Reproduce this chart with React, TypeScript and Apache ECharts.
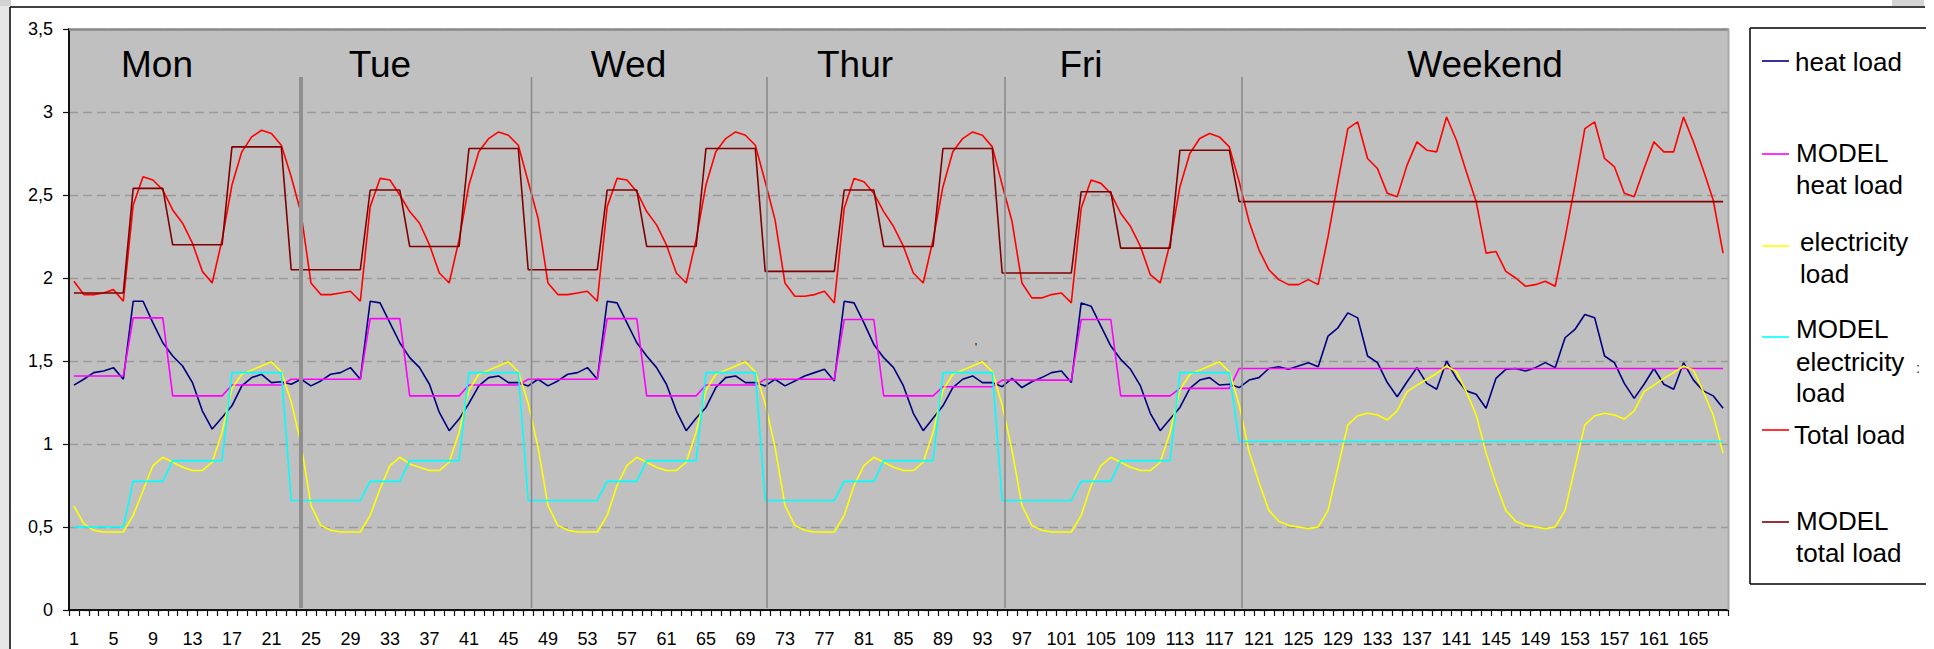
import React, { useEffect, useRef } from "react";
import * as echarts from "echarts";

const FONT = "'Liberation Sans', Arial, sans-serif";

// hour-of-week categories, labelled 1 .. 168
const hours: string[] = Array.from({ length: 168 }, (_, i) => String(i + 1));

const dayNames = ["Mon", "Tue", "Wed", "Thur", "Fri", "Weekend"];

const seriesNames = [
  "heat load",
  "MODEL heat load",
  "electricity load",
  "MODEL electricity load",
  "Total load",
  "MODEL total load",
];

const heatLoad = [
  1.355, 1.39, 1.43, 1.44, 1.46, 1.39, 1.86, 1.86, 1.73, 1.61, 1.53, 1.47, 1.37, 1.2, 1.09, 1.16, 1.23, 1.35, 1.4, 1.42, 1.37, 1.375, 1.36, 1.39,
  1.35, 1.38, 1.42, 1.43, 1.46, 1.39, 1.86, 1.85, 1.73, 1.61, 1.52, 1.46, 1.36, 1.19, 1.08, 1.15, 1.245, 1.35, 1.4, 1.41, 1.37, 1.37, 1.35, 1.39,
  1.35, 1.38, 1.42, 1.43, 1.46, 1.39, 1.86, 1.85, 1.73, 1.61, 1.53, 1.46, 1.36, 1.2, 1.08, 1.155, 1.22, 1.34, 1.4, 1.41, 1.37, 1.37, 1.35, 1.39,
  1.35, 1.38, 1.41, 1.43, 1.45, 1.38, 1.86, 1.85, 1.73, 1.6, 1.52, 1.46, 1.35, 1.185, 1.08, 1.155, 1.23, 1.34, 1.39, 1.41, 1.37, 1.37, 1.345, 1.395,
  1.34, 1.375, 1.4, 1.43, 1.44, 1.37, 1.85, 1.83, 1.71, 1.59, 1.51, 1.45, 1.35, 1.185, 1.08, 1.15, 1.22, 1.335, 1.385, 1.4, 1.355, 1.36, 1.34, 1.385,
  1.4, 1.455, 1.465, 1.45, 1.47, 1.49, 1.465, 1.65, 1.7, 1.79, 1.76, 1.53, 1.49, 1.37, 1.285, 1.375, 1.46, 1.365, 1.33, 1.5, 1.395, 1.32, 1.3, 1.215,
  1.395, 1.45, 1.455, 1.44, 1.46, 1.49, 1.46, 1.64, 1.69, 1.78, 1.76, 1.53, 1.49, 1.365, 1.275, 1.36, 1.455, 1.36, 1.33, 1.49, 1.385, 1.32, 1.29, 1.215,
];

const modelHeatLoad = [
  1.41, 1.41, 1.41, 1.41, 1.41, 1.41, 1.76, 1.76, 1.76, 1.76, 1.29, 1.29, 1.29, 1.29, 1.29, 1.29, 1.355, 1.355, 1.355, 1.355, 1.355, 1.355, 1.39, 1.39,
  1.39, 1.39, 1.39, 1.39, 1.39, 1.39, 1.755, 1.755, 1.755, 1.755, 1.29, 1.29, 1.29, 1.29, 1.29, 1.29, 1.355, 1.355, 1.355, 1.355, 1.355, 1.355, 1.39, 1.39,
  1.39, 1.39, 1.39, 1.39, 1.39, 1.39, 1.755, 1.755, 1.755, 1.755, 1.29, 1.29, 1.29, 1.29, 1.29, 1.29, 1.355, 1.355, 1.355, 1.355, 1.355, 1.355, 1.39, 1.39,
  1.39, 1.39, 1.39, 1.39, 1.39, 1.39, 1.75, 1.75, 1.75, 1.75, 1.29, 1.29, 1.29, 1.29, 1.29, 1.29, 1.345, 1.345, 1.345, 1.345, 1.345, 1.345, 1.385, 1.385,
  1.385, 1.385, 1.385, 1.385, 1.385, 1.385, 1.75, 1.75, 1.75, 1.75, 1.29, 1.29, 1.29, 1.29, 1.29, 1.29, 1.335, 1.335, 1.335, 1.335, 1.335, 1.335, 1.455, 1.455,
  1.455, 1.455, 1.455, 1.455, 1.455, 1.455, 1.455, 1.455, 1.455, 1.455, 1.455, 1.455, 1.455, 1.455, 1.455, 1.455, 1.455, 1.455, 1.455, 1.455, 1.455, 1.455, 1.455, 1.455,
  1.455, 1.455, 1.455, 1.455, 1.455, 1.455, 1.455, 1.455, 1.455, 1.455, 1.455, 1.455, 1.455, 1.455, 1.455, 1.455, 1.455, 1.455, 1.455, 1.455, 1.455, 1.455, 1.455, 1.455,
];

const electricityLoad = [
  0.625, 0.52, 0.48, 0.47, 0.47, 0.47, 0.57, 0.72, 0.87, 0.92, 0.89, 0.86, 0.84, 0.84, 0.89, 1.07, 1.335, 1.42, 1.445, 1.47, 1.495, 1.435, 1.255, 1.0,
  0.63, 0.51, 0.48, 0.47, 0.47, 0.47, 0.57, 0.73, 0.87, 0.92, 0.88, 0.86, 0.84, 0.84, 0.89, 1.07, 1.325, 1.42, 1.445, 1.47, 1.495, 1.435, 1.245, 0.98,
  0.63, 0.51, 0.48, 0.47, 0.47, 0.47, 0.57, 0.75, 0.87, 0.92, 0.89, 0.86, 0.84, 0.84, 0.89, 1.07, 1.325, 1.42, 1.445, 1.47, 1.495, 1.435, 1.245, 0.98,
  0.63, 0.51, 0.48, 0.47, 0.47, 0.47, 0.57, 0.75, 0.87, 0.92, 0.89, 0.86, 0.84, 0.84, 0.89, 1.07, 1.325, 1.42, 1.445, 1.47, 1.495, 1.435, 1.235, 0.96,
  0.63, 0.51, 0.48, 0.47, 0.47, 0.47, 0.57, 0.75, 0.87, 0.92, 0.89, 0.86, 0.84, 0.84, 0.89, 1.07, 1.325, 1.42, 1.445, 1.47, 1.495, 1.435, 1.235, 0.955,
  0.77, 0.6, 0.535, 0.51, 0.5, 0.49, 0.5, 0.6, 0.86, 1.115, 1.17, 1.185, 1.175, 1.145, 1.2, 1.315, 1.355, 1.39, 1.425, 1.47, 1.435, 1.315, 1.175, 0.945,
  0.76, 0.6, 0.535, 0.51, 0.5, 0.49, 0.5, 0.6, 0.86, 1.115, 1.17, 1.185, 1.175, 1.15, 1.2, 1.315, 1.355, 1.395, 1.43, 1.47, 1.445, 1.315, 1.175, 0.945,
];

const modelElectricityLoad = [
  0.5, 0.5, 0.5, 0.5, 0.5, 0.5, 0.775, 0.775, 0.775, 0.775, 0.9, 0.9, 0.9, 0.9, 0.9, 0.9, 1.43, 1.43, 1.43, 1.43, 1.43, 1.43, 0.66, 0.66,
  0.66, 0.66, 0.66, 0.66, 0.66, 0.66, 0.775, 0.775, 0.775, 0.775, 0.9, 0.9, 0.9, 0.9, 0.9, 0.9, 1.43, 1.43, 1.43, 1.43, 1.43, 1.43, 0.66, 0.66,
  0.66, 0.66, 0.66, 0.66, 0.66, 0.66, 0.775, 0.775, 0.775, 0.775, 0.9, 0.9, 0.9, 0.9, 0.9, 0.9, 1.43, 1.43, 1.43, 1.43, 1.43, 1.43, 0.66, 0.66,
  0.66, 0.66, 0.66, 0.66, 0.66, 0.66, 0.775, 0.775, 0.775, 0.775, 0.9, 0.9, 0.9, 0.9, 0.9, 0.9, 1.43, 1.43, 1.43, 1.43, 1.43, 1.43, 0.66, 0.66,
  0.66, 0.66, 0.66, 0.66, 0.66, 0.66, 0.775, 0.775, 0.775, 0.775, 0.9, 0.9, 0.9, 0.9, 0.9, 0.9, 1.43, 1.43, 1.43, 1.43, 1.43, 1.43, 1.015, 1.015,
  1.015, 1.015, 1.015, 1.015, 1.015, 1.015, 1.015, 1.015, 1.015, 1.015, 1.015, 1.015, 1.015, 1.015, 1.015, 1.015, 1.015, 1.015, 1.015, 1.015, 1.015, 1.015, 1.015, 1.015,
  1.015, 1.015, 1.015, 1.015, 1.015, 1.015, 1.015, 1.015, 1.015, 1.015, 1.015, 1.015, 1.015, 1.015, 1.015, 1.015, 1.015, 1.015, 1.015, 1.015, 1.015, 1.015, 1.015, 1.015,
];

const totalLoad = [
  1.98, 1.9, 1.9, 1.91, 1.93, 1.86, 2.44, 2.61, 2.59, 2.53, 2.41, 2.33, 2.21, 2.04, 1.97, 2.23, 2.56, 2.76, 2.85, 2.89, 2.87, 2.8, 2.61, 2.39,
  1.97, 1.9, 1.9, 1.91, 1.92, 1.86, 2.43, 2.6, 2.59, 2.5, 2.4, 2.33, 2.2, 2.03, 1.97, 2.23, 2.56, 2.76, 2.84, 2.88, 2.86, 2.8, 2.58, 2.36,
  1.97, 1.9, 1.9, 1.91, 1.92, 1.86, 2.43, 2.6, 2.59, 2.52, 2.4, 2.32, 2.2, 2.03, 1.97, 2.23, 2.56, 2.76, 2.84, 2.88, 2.86, 2.8, 2.58, 2.35,
  1.97, 1.89, 1.89, 1.9, 1.92, 1.85, 2.42, 2.6, 2.58, 2.51, 2.4, 2.31, 2.19, 2.03, 1.97, 2.23, 2.55, 2.76, 2.84, 2.88, 2.86, 2.79, 2.56, 2.34,
  1.97, 1.88, 1.88, 1.9, 1.91, 1.85, 2.42, 2.59, 2.57, 2.51, 2.39, 2.31, 2.19, 2.02, 1.97, 2.21, 2.55, 2.75, 2.84, 2.87, 2.85, 2.79, 2.58, 2.34,
  2.17, 2.05, 1.99, 1.96, 1.96, 1.99, 1.96, 2.25, 2.58, 2.9, 2.94, 2.72, 2.66, 2.51, 2.49, 2.68, 2.82, 2.77, 2.76, 2.97, 2.83, 2.64, 2.46, 2.15,
  2.16, 2.04, 2.0, 1.95, 1.96, 1.98, 1.95, 2.24, 2.56, 2.9, 2.94, 2.72, 2.67, 2.51, 2.49, 2.66, 2.82, 2.76, 2.76, 2.97, 2.82, 2.65, 2.47, 2.15,
];

const modelTotalLoad = [
  1.91, 1.91, 1.91, 1.91, 1.91, 1.91, 2.54, 2.54, 2.54, 2.54, 2.2, 2.2, 2.2, 2.2, 2.2, 2.2, 2.79, 2.79, 2.79, 2.79, 2.79, 2.79, 2.05, 2.05,
  2.05, 2.05, 2.05, 2.05, 2.05, 2.05, 2.53, 2.53, 2.53, 2.53, 2.19, 2.19, 2.19, 2.19, 2.19, 2.19, 2.78, 2.78, 2.78, 2.78, 2.78, 2.78, 2.05, 2.05,
  2.05, 2.05, 2.05, 2.05, 2.05, 2.05, 2.53, 2.53, 2.53, 2.53, 2.19, 2.19, 2.19, 2.19, 2.19, 2.19, 2.78, 2.78, 2.78, 2.78, 2.78, 2.78, 2.04, 2.04,
  2.04, 2.04, 2.04, 2.04, 2.04, 2.04, 2.53, 2.53, 2.53, 2.53, 2.19, 2.19, 2.19, 2.19, 2.19, 2.19, 2.78, 2.78, 2.78, 2.78, 2.78, 2.78, 2.03, 2.03,
  2.03, 2.03, 2.03, 2.03, 2.03, 2.03, 2.52, 2.52, 2.52, 2.52, 2.18, 2.18, 2.18, 2.18, 2.18, 2.18, 2.77, 2.77, 2.77, 2.77, 2.77, 2.77, 2.46, 2.46,
  2.46, 2.46, 2.46, 2.46, 2.46, 2.46, 2.46, 2.46, 2.46, 2.46, 2.46, 2.46, 2.46, 2.46, 2.46, 2.46, 2.46, 2.46, 2.46, 2.46, 2.46, 2.46, 2.46, 2.46,
  2.46, 2.46, 2.46, 2.46, 2.46, 2.46, 2.46, 2.46, 2.46, 2.46, 2.46, 2.46, 2.46, 2.46, 2.46, 2.46, 2.46, 2.46, 2.46, 2.46, 2.46, 2.46, 2.46, 2.46,
];

const seriesValues = [heatLoad, modelHeatLoad, electricityLoad, modelElectricityLoad, totalLoad, modelTotalLoad];
const seriesColors = ["#000080", "#FF00FF", "#FFFF00", "#00FFFF", "#FF0000", "#800000"];

// legend text lines per entry
const legendLines = [
  ["heat load"],
  ["MODEL", "heat load"],
  ["electricity", "load"],
  ["MODEL", "electricity", "load"],
  ["Total load"],
  ["MODEL", "total load"],
];

function txt(text: string, x: number, y: number, size: number, align: string, extra: any = {}) {
  return {
    type: "text",
    x,
    y,
    z: 20,
    silent: true,
    style: {
      text,
      fontSize: size,
      fontFamily: FONT,
      fill: "#000",
      align,
      textAlign: align,
      verticalAlign: "middle",
      textVerticalAlign: "middle",
      ...extra,
    },
  };
}

function ln(x1: number, y1: number, x2: number, y2: number, stroke: string, lineWidth: number, z = 20) {
  return { type: "line", z, silent: true, shape: { x1, y1, x2, y2 }, style: { stroke, lineWidth } };
}

function buildGraphic() {
  const g: any[] = [];
  // outer frame
  g.push({ type: "rect", z: 1, silent: true, shape: { x: 0, y: 0, width: 9, height: 649 }, style: { fill: "#e6e6e6" } });
  g.push({ type: "rect", z: 1, silent: true, shape: { x: 0, y: 0, width: 11, height: 6 }, style: { fill: "#d2d2d2" } });
  g.push({ type: "rect", z: 1, silent: true, shape: { x: 1892, y: 0, width: 32, height: 6 }, style: { fill: "#d4d4d4" } });
  g.push(ln(10, 7, 1925, 7, "#000", 1.5));
  g.push(ln(10, 7, 10, 649, "#000", 1.5));
  // plot border (top / right)
  g.push(ln(69, 29.5, 1729, 29.5, "#8a8a8a", 2.5));
  g.push(ln(1728.5, 29, 1728.5, 610, "#a8a8a8", 2));
  // day separators
  g.push(ln(301, 77, 301, 608, "#8f8f8f", 4));
  [531.5, 767, 1005, 1242].forEach((x) => g.push(ln(x, 77, x, 608, "#8a8a8a", 1.6)));
  // day labels
  const dayX = [157, 380, 628.5, 855, 1081, 1485];
  dayNames.forEach((d, i) => g.push(txt(d, dayX[i], 64, 37, "center")));
  // stray marks of the original
  g.push(txt("'", 976, 347, 13, "center", { fill: "#222" }));
  g.push(txt(":", 1918, 367, 15, "center", { fill: "#333" }));
  // legend box
  g.push({ type: "rect", z: 5, silent: true, shape: { x: 1750, y: 28, width: 200, height: 556 }, style: { fill: "#fff" } });
  g.push(ln(1750, 28, 1926, 28, "#000", 1.5));
  g.push(ln(1750, 28, 1750, 584, "#000", 1.5));
  g.push(ln(1750, 584, 1926, 584, "#000", 1.5));
  const iconY = [61, 154, 246, 337, 430, 522];
  const lineYs = [[62], [153, 185], [242, 274], [329, 362, 393], [435], [521, 553]];
  const textX = [1795, 1796, 1800, 1796, 1794, 1796];
  legendLines.forEach((lines, i) => {
    g.push(ln(1762, iconY[i], 1789, iconY[i], seriesColors[i], 1.6));
    lines.forEach((t, j) => g.push(txt(t, textX[i], lineYs[i][j], 26, "left")));
  });
  return g;
}

export default function App() {
  const ref = useRef<HTMLDivElement>(null);
  useEffect(() => {
    document.body.style.margin = "0";
    const chart = echarts.init(ref.current!, null, { renderer: "svg", width: 1934, height: 649 });
    const option: any = {
      animation: false,
      backgroundColor: "#ffffff",
      textStyle: { fontFamily: FONT },
      grid: {
        left: 69,
        top: 29,
        width: 1659,
        height: 581,
        show: true,
        backgroundColor: "#c0c0c0",
        borderWidth: 0,
      },
      xAxis: {
        type: "category",
        data: hours,
        boundaryGap: true,
        axisLine: { lineStyle: { color: "#111", width: 2 } },
        axisTick: { show: true, interval: 0, length: 6, lineStyle: { color: "#111", width: 1.2 } },
        axisLabel: { interval: 3, margin: 20, fontSize: 18, color: "#000", fontFamily: FONT },
        splitLine: { show: false },
      },
      yAxis: {
        type: "value",
        min: 0,
        max: 3.5,
        interval: 0.5,
        axisLine: { show: true, lineStyle: { color: "#111", width: 2 } },
        axisTick: { show: true, length: 6, lineStyle: { color: "#111", width: 1.2 } },
        axisLabel: {
          margin: 16,
          fontSize: 18,
          color: "#000",
          fontFamily: FONT,
          formatter: (v: number) => String(v).replace(".", ","),
        },
        splitLine: { show: true, lineStyle: { type: [9, 5], color: "#9a9a9a", width: 1.3 } },
      },
      series: seriesNames.map((name, i) => ({
        name,
        type: "line",
        data: seriesValues[i],
        symbol: "none",
        showSymbol: false,
        lineStyle: { color: seriesColors[i], width: 1.6 },
        itemStyle: { color: seriesColors[i] },
        z: 2 + i * 0.1,
      })),
      graphic: buildGraphic(),
    };
    chart.setOption(option);
    return () => chart.dispose();
  }, []);
  return (
    <div
      ref={ref}
      style={{ width: 1934, height: 649, position: "absolute", left: 0, top: 0, background: "#fff" }}
    />
  );
}
